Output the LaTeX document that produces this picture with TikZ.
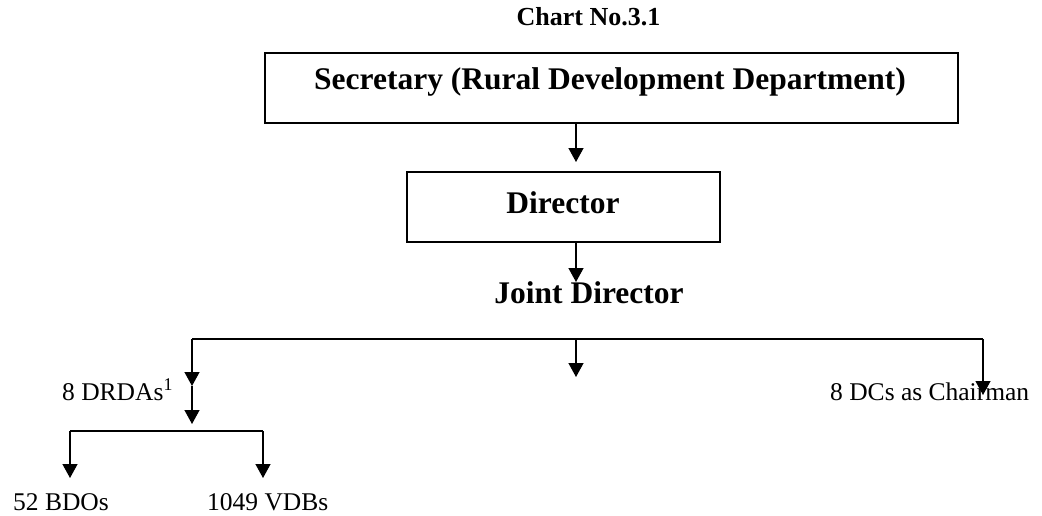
\documentclass[tikz,border=0pt]{standalone}
\usepackage{fontspec}
\setmainfont{Liberation Serif}
\usetikzlibrary{arrows.meta}
\tikzset{
  arr/.style={line width=1.3pt, -{Triangle[width=15pt 0 0,length=14pt 0 0]}},
  ln/.style={line width=1.3pt},
  bigt/.style={font=\fontsize{31.5}{36}\selectfont\bfseries, inner sep=0pt, anchor=base},
  smallt/.style={font=\fontsize{25.5}{30}\selectfont, inner sep=0pt, anchor=base west},
  boxnode/.style={draw, line width=1.4pt, rectangle, inner sep=0pt},
}
\begin{document}
\begin{tikzpicture}[x=1pt,y=-1pt]
\useasboundingbox (0,0) rectangle (1042,515);
% title
\node[font=\fontsize{26}{30}\selectfont\bfseries, inner sep=0pt, anchor=base] (chart) at (588.5,25) {Chart No.3.1};
% secretary box
\node[boxnode, line width=1.8pt, minimum width=693pt, minimum height=70pt] (secbox) at (611.5,88) {};
\node[bigt] (sec) at (610,89) {Secretary (Rural Development Department)};
% director box
\node[boxnode, minimum width=313pt, minimum height=70pt] (dirbox) at (563.5,207) {};
\node[bigt] (dir) at (563,213) {Director};
% joint director
\node[bigt] (jd) at (589,303) {Joint Director};
% coordinates
\coordinate (c1) at (576,162);
\coordinate (c2) at (576,282);
\coordinate (bl) at (192,339);
\coordinate (bm) at (576,339);
\coordinate (br) at (983,339);
\coordinate (tl) at (192,386);
\coordinate (tm) at (576,377);
\coordinate (tr) at (983,395);
\coordinate (t2) at (192,424);
\coordinate (sbl) at (70,431);
\coordinate (sbr) at (263,431);
\coordinate (tbl) at (70,478);
\coordinate (tbr) at (263,478);
% leaf labels
\node[smallt] (drda) at (62,400) {8 DRDAs\textsuperscript{1}};
\node[smallt] (dcs) at (830,400) {8 DCs as Chairman};
\node[smallt] (bdo) at (13,510) {52 BDOs};
\node[smallt] (vdb) at (207,510) {1049 VDBs};
% connectors
\draw[arr] (secbox.south -| c1) -- (c1);
\draw[arr] (dirbox.south -| c2) -- (c2);
\draw[ln] (bl) -- (br);
\draw[arr] (bl) -- (tl);
\draw[arr] (bm) -- (tm);
\draw[arr] (br) -- (tr);
\draw[arr] (tl) -- (t2);
\draw[ln] (sbl) -- (sbr);
\draw[arr] (sbl) -- (tbl);
\draw[arr] (sbr) -- (tbr);
\end{tikzpicture}
\end{document}
